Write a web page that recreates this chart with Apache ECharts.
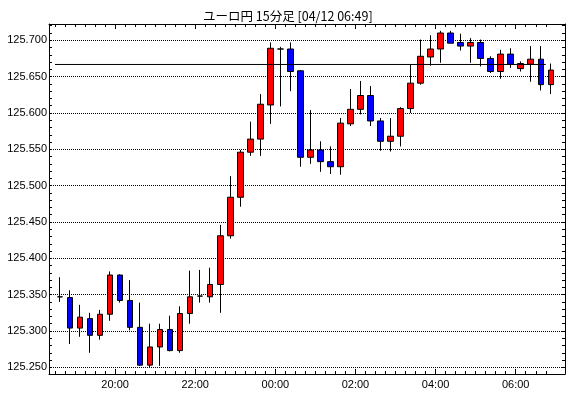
<!DOCTYPE html>
<html><head><meta charset="utf-8">
<script src="https://cdn.jsdelivr.net/npm/echarts@6/dist/echarts.min.js"></script>
<style>html,body{margin:0;padding:0;background:#fff}#c{width:570px;height:398px}</style>
</head><body><div id="c"></div>
<script>
const titleText = 'ユーロ円 15分足 [04/12 06:49]';
const times = ['18:30','18:45','19:00','19:15','19:30','19:45','20:00','20:15','20:30','20:45',
  '21:00','21:15','21:30','21:45','22:00','22:15','22:30','22:45','23:00','23:15',
  '23:30','23:45','00:00','00:15','00:30','00:45','01:00','01:15','01:30','01:45',
  '02:00','02:15','02:30','02:45','03:00','03:15','03:30','03:45','04:00','04:15',
  '04:30','04:45','05:00','05:15','05:30','05:45','06:00','06:15','06:30','06:45'];
const open = [125.347,125.346,125.304,125.317,125.294,125.323,125.377,125.342,125.305,125.253,
  125.278,125.302,125.273,125.324,125.348,125.347,125.364,125.431,125.484,125.546,
  125.564,125.611,125.688,125.688,125.658,125.539,125.549,125.533,125.526,125.585,
  125.605,125.624,125.589,125.561,125.568,125.606,125.641,125.677,125.688,125.710,
  125.697,125.692,125.697,125.675,125.657,125.681,125.661,125.667,125.674,125.639];
const close = [125.347,125.304,125.319,125.294,125.323,125.377,125.342,125.305,125.253,125.278,
  125.302,125.273,125.324,125.347,125.348,125.364,125.431,125.484,125.546,125.564,
  125.612,125.689,125.688,125.657,125.539,125.549,125.533,125.526,125.586,125.605,
  125.624,125.589,125.561,125.568,125.606,125.641,125.678,125.688,125.710,125.696,
  125.692,125.697,125.675,125.657,125.681,125.667,125.668,125.674,125.639,125.659];
const low = [125.340,125.282,125.292,125.270,125.288,125.314,125.339,125.301,125.252,125.249,
  125.252,125.272,125.270,125.310,125.339,125.339,125.325,125.427,125.471,125.541,
  125.541,125.585,125.609,125.630,125.526,125.530,125.519,125.516,125.515,125.582,
  125.598,125.582,125.548,125.547,125.554,125.600,125.639,125.665,125.669,125.696,
  125.686,125.669,125.664,125.655,125.647,125.662,125.657,125.643,125.631,125.626];
const high = [125.374,125.356,125.336,125.325,125.329,125.382,125.378,125.370,125.339,125.310,
  125.310,125.321,125.334,125.383,125.384,125.387,125.446,125.513,125.549,125.588,
  125.626,125.697,125.691,125.697,125.659,125.604,125.561,125.554,125.593,125.633,
  125.644,125.637,125.593,125.593,125.608,125.667,125.701,125.707,125.713,125.713,
  125.709,125.703,125.701,125.678,125.687,125.689,125.671,125.692,125.692,125.668];
const refLevel = 125.6667;
const yLabels = [125.25,125.30,125.35,125.40,125.45,125.50,125.55,125.60,125.65,125.70];
const xLabelTimes = ['20:00','22:00','00:00','02:00','04:00','06:00'];

const xMin = -1.1, xMax = 50.42;
const yMin = 125.2408, yMax = 125.7224;
const FONT = 'Liberation Sans';

const candleData = times.map((t, i) => [i, open[i], close[i], low[i], high[i]]);
const boundaries = times.map((t, i) => i - 0.5);
const majorX = xLabelTimes.map(t => times.indexOf(t) - 0.5);
const minorY = [];
for (let k = 0; k <= 47; k++) minorY.push(+(125.25 + k * 0.01).toFixed(2));

const black = '#000';
function xAx(pos, ticks, len, showLine, showLabel) {
  return {
    type: 'value', position: pos, min: xMin, max: xMax,
    axisLine: { show: showLine, onZero: false, lineStyle: { color: black, width: 1 } },
    axisTick: { show: true, inside: true, length: len, customValues: ticks, lineStyle: { color: black, width: 1 } },
    axisLabel: showLabel ? {
      show: true, customValues: majorX, margin: 5, color: black, fontFamily: FONT, fontSize: 11,
      formatter: v => times[Math.round(v + 0.5)] || ''
    } : { show: false },
    splitLine: { show: false }
  };
}
function yAx(pos, ticks, showLine, showLabel, showSplit, showTick) {
  return {
    type: 'value', position: pos, min: yMin, max: yMax, scale: true,
    axisLine: { show: showLine, onZero: false, lineStyle: { color: black, width: 1 } },
    axisTick: { show: showTick, inside: true, length: 3, customValues: ticks, lineStyle: { color: black, width: 1 } },
    axisLabel: showLabel ? {
      show: true, customValues: yLabels, margin: 2, color: black, fontFamily: FONT, fontSize: 11,
      formatter: v => v.toFixed(3)
    } : { show: false },
    splitLine: showSplit ? { show: true, lineStyle: { color: black, width: 1, type: [1, 1] } } : { show: false }
  };
}

const chart = echarts.init(document.getElementById('c'), null, { renderer: 'canvas' });
chart.setOption({
  animation: false,
  backgroundColor: '#fff',
  title: {
    text: titleText, left: 198, top: 5,
    textStyle: { fontFamily: 'Noto Sans CJK JP', fontSize: 12.5, fontWeight: 'normal', color: black }
  },
  grid: { left: 49, right: 5, top: 24, bottom: 24, containLabel: false },
  xAxis: [
    xAx('bottom', majorX, 5, true, true),
    xAx('bottom', boundaries, 3, false, false),
    xAx('top', majorX, 5, true, false),
    xAx('top', boundaries, 3, false, false)
  ],
  yAxis: [
    yAx('left', minorY, true, true, false, true),
    yAx('right', minorY, true, false, false, true),
    yAx('left', yLabels, false, false, true, false)
  ],
  series: [
    {
      type: 'candlestick', xAxisIndex: 0, yAxisIndex: 0,
      encode: { x: 0, y: [1, 2, 3, 4] },
      barWidth: 6,
      data: candleData,
      itemStyle: {
        color: '#ff0000', color0: '#0000ff',
        borderColor: black, borderColor0: black, borderColorDoji: black, borderWidth: 1
      },
      z: 3
    },
    {
      type: 'line', xAxisIndex: 0, yAxisIndex: 0,
      data: [[boundaries[0], refLevel], [boundaries[times.length - 1], refLevel]],
      symbol: 'none', silent: true,
      lineStyle: { color: black, width: 1 },
      z: 4
    }
  ]
});
</script></body></html>
